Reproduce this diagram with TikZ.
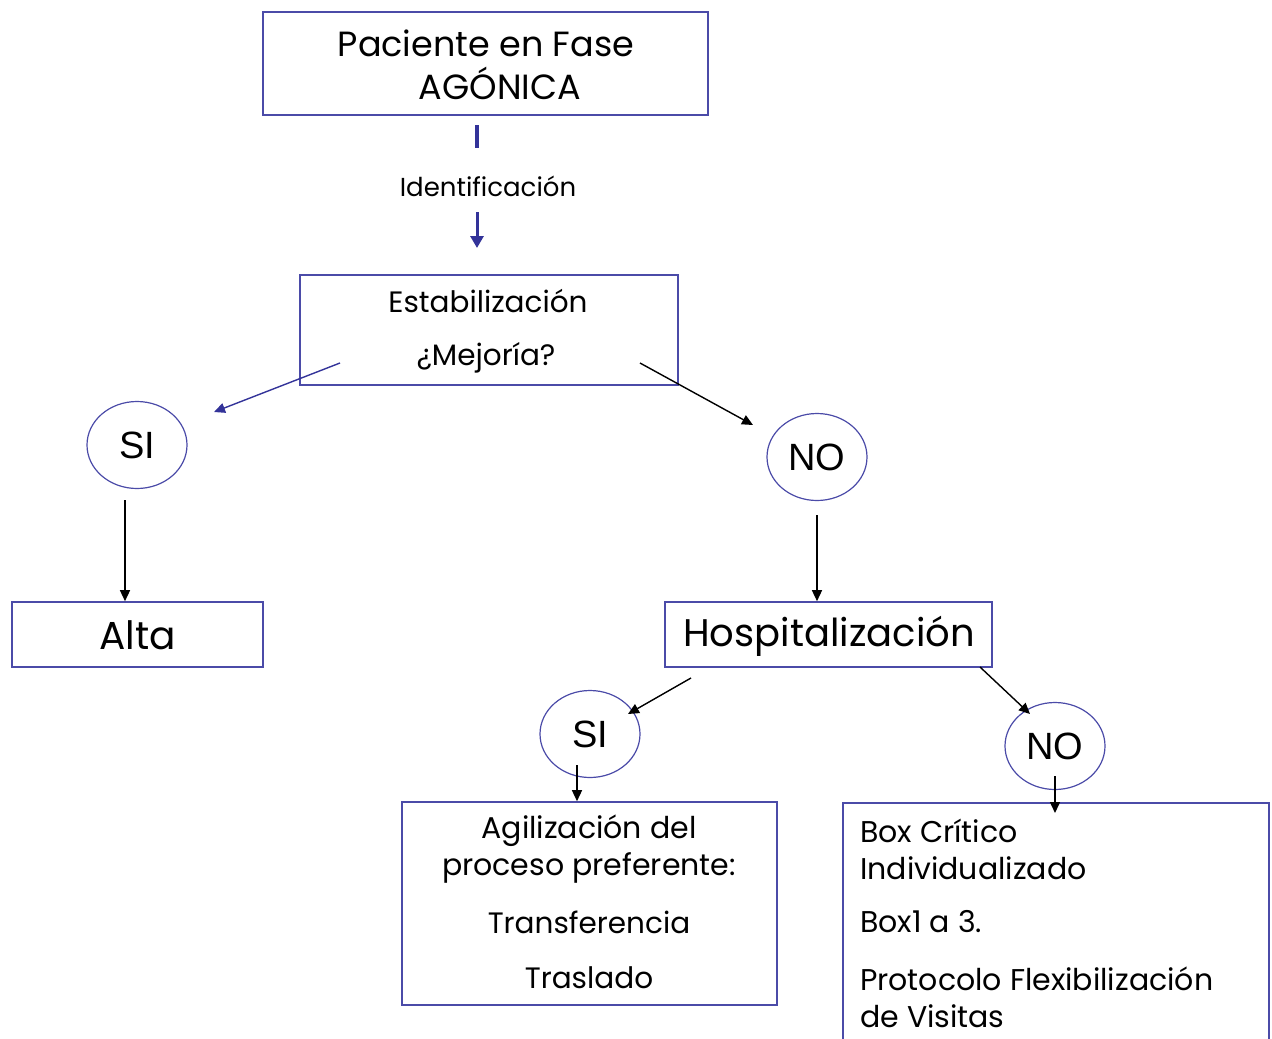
\documentclass[tikz,border=0pt]{standalone}
\usepackage{fontspec}
\setmainfont{Poppins}
\newfontfamily\arialf{Liberation Sans}
\usetikzlibrary{arrows.meta,shapes.geometric}
\definecolor{bord}{HTML}{4B4BA8}
\definecolor{darr}{HTML}{333399}
\tikzset{
  boxn/.style={draw=bord,line width=1.6pt,inner sep=0pt},
  txt/.style={inner sep=0pt,font=\fontsize{#1}{#1}\selectfont},
  circn/.style={draw=bord,line width=1.2pt,ellipse,minimum width=100pt,minimum height=87pt,inner sep=0pt,font=\arialf\fontsize{38}{40}\selectfont},
  barr/.style={line width=1.4pt,-{Triangle[length=11pt,width=10pt]}},
  blarr/.style={draw=darr,line width=1.4pt,-{Triangle[length=11pt,width=10pt]}}
}
\begin{document}
\begin{tikzpicture}[x=1pt,y=-1pt]
\useasboundingbox (0,0) rectangle (1272,1039);
% boxes
\node[boxn,minimum width=445pt,minimum height=103pt] (pac) at (485.5,63.5) {};
\node[txt=35] (pac1) at (486,43) {Paciente en Fase};
\node[txt=35] (pac2) at (500,83) {AGÓNICA};
\coordinate (b1) at (477,125);
\coordinate (b2) at (477,148);
\draw[draw=darr,line width=4pt] (b1) -- (b2);
\node[txt=26] (ident) at (488,186) {Identificación};
\coordinate (a1) at (477,212);
\coordinate (a2) at (477,248);
\draw[draw=darr,line width=3pt,-{Triangle[length=12pt,width=13pt]}] (a1) -- (a2);
\node[boxn,minimum width=378pt,minimum height=110pt] (est) at (489,330) {};
\node[txt=29.5] (est1) at (488,301) {Estabilización};
\node[txt=29.5] (est2) at (486,358) {¿Mejoría?};
\node[circn] (si1) at (137,445) {SI};
\node[circn] (no1) at (817,457) {NO};
\coordinate (s1a) at (340,363);
\coordinate (s1b) at (214,412);
\draw[blarr] (s1a) -- (s1b);
\coordinate (n1a) at (640,363);
\coordinate (n1b) at (753,425);
\draw[barr] (n1a) -- (n1b);
\node[boxn,minimum width=251pt,minimum height=65pt] (alta) at (137.5,634.5) {};
\node[txt=39] (altat) at (137.5,635) {Alta};
\node[boxn,minimum width=327pt,minimum height=65pt] (hosp) at (828.5,634.5) {};
\node[txt=38.5] (hospt) at (829,636) {Hospitalización};
\coordinate (sa1) at (125,500);
\draw[barr] (sa1) -- (alta.north -| sa1);
\coordinate (na1) at (817,515);
\draw[barr] (na1) -- (hosp.north -| na1);
\node[circn] (si2) at (590,734) {SI};
\node[circn] (no2) at (1055,746) {NO};
\coordinate (h1a) at (691,678);
\coordinate (h1b) at (628,714);
\draw[barr] (h1a) -- (h1b);
\coordinate (h2a) at (980,667);
\coordinate (h2b) at (1030,714);
\draw[barr] (h2a) -- (h2b);
\node[boxn,minimum width=375pt,minimum height=203pt] (agil) at (589.5,903.5) {};
\node[boxn,minimum width=426pt,minimum height=260pt,anchor=north west] (boxc) at (842,802) {};
\coordinate (s2a) at (577,765);
\draw[barr] (s2a) -- (agil.north -| s2a);
\coordinate (n2a) at (1055,776);
\coordinate (n2b) at (1055,813);
\draw[barr] (n2a) -- (n2b);
\node[txt=30] (ag1) at (589,831) {Agilización del};
\node[txt=30] (ag2) at (589,868) {proceso preferente:};
\node[txt=29.5] (ag3) at (589,922) {Transferencia};
\node[txt=29.5] (ag4) at (589,978) {Traslado};
\node[txt=30,anchor=west] (bc1) at (860,831) {Box Crítico};
\node[txt=30,anchor=west] (bc2) at (860,868) {Individualizado};
\node[txt=30,anchor=west] (bc3) at (860,922) {Box1 a 3.};
\node[txt=30,anchor=west] (bc4) at (860,979) {Protocolo Flexibilización};
\node[txt=30,anchor=west] (bc5) at (860,1016) {de Visitas};
\end{tikzpicture}
\end{document}
